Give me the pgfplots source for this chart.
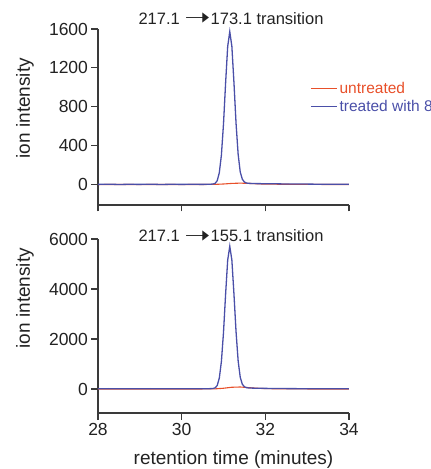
\documentclass[border=0pt]{standalone}
\usepackage{pgfplots}
\pgfplotsset{compat=1.18}
\usepackage{fontspec}
\setmainfont{Liberation Sans}
\newfontfamily\symfont{DejaVu Sans}

\definecolor{untr}{HTML}{E8502A}
\definecolor{trt}{HTML}{4A4FA8}
\definecolor{axcol}{HTML}{3A3A3A}
\definecolor{txt}{HTML}{222222}

% arrow used in the panel titles
\newcommand{\trarrow}{{\symfont\raisebox{-0.08em}{\scalebox{1.9}[1.45]{➝}}}}

\pgfplotsset{
  chrom/.style={
    scale only axis,
    width=251pt,
    xmin=28, xmax=34,
    axis lines=left,
    axis line style={-, axcol, line width=1.1pt},
    every tick/.style={axcol, line width=1.1pt},
    tick align=outside,
    major tick length=6.5pt,
    xtick={28,30,32,34},
    tick label style={font=\fontsize{17.5}{20}\selectfont, text=txt},
    label style={font=\fontsize{19}{22}\selectfont, text=txt},
    ylabel={ion intensity},
    /pgf/number format/assume math mode=true,
    /pgf/number format/1000 sep={},
    clip=false,
  },
  untr line/.style={untr, line width=1.1pt},
  trt line/.style={trt, line width=1.3pt},
}

\begin{document}
\begin{tikzpicture}

% top panel: 217.1 -> 173.1
\begin{axis}[chrom,
    at={(98pt,264pt)}, anchor=south west,
    height=176pt,
    ymin=-210, ymax=1600,
    ytick={0,400,800,1200,1600},
    xticklabels={},
    ylabel style={at={(axis description cs:-0.291,0.55)}, anchor=center},
    legend style={at={(axis description cs:0.845,0.611)}, anchor=west,
      draw=none, fill=none, inner sep=0pt, row sep=1pt,
      font=\fontsize{15.5}{18}\selectfont},
    legend cell align=left,
    legend image code/.code={\draw[#1] (0pt,0pt) -- (26pt,0pt);},
]
\addplot[untr line] coordinates {
  (28.0,0) (28.5,1) (29.0,0) (29.5,1) (30.0,0) (30.5,1) (30.8,2)
  (31.0,6) (31.2,12) (31.4,15) (31.6,12) (31.8,8) (32.0,5) (32.5,3)
  (33.0,2) (33.5,1) (34.0,1)
};
\addlegendentry{\textcolor{untr}{untreated}}
\addplot[trt line] coordinates {
  (28.0,2) (28.25,4) (28.5,1) (28.75,3) (29.0,2) (29.25,4) (29.5,1)
  (29.75,3) (30.0,2) (30.25,3) (30.5,2) (30.6,3) (30.7,4) (30.75,6)
  (30.8,12) (30.85,40) (30.9,122) (30.95,304) (31.0,623) (31.05,1042)
  (31.1,1419) (31.15,1573) (31.2,1422) (31.25,1048) (31.3,630)
  (31.35,312) (31.4,130) (31.45,55) (31.5,26) (31.55,16) (31.6,13)
  (31.7,11) (31.8,10) (32.0,9) (32.25,8) (32.5,6) (32.75,5) (33.0,5)
  (33.25,4) (33.5,4) (33.75,3) (34.0,4)
};
\addlegendentry{\textcolor{trt}{treated with 8}}
\node[txt, font=\fontsize{16.5}{18}\selectfont, anchor=center]
  at (axis description cs:0.53,1.057) {217.1 \trarrow173.1 transition};
\end{axis}

% bottom panel: 217.1 -> 155.1
\begin{axis}[chrom,
    at={(98pt,56pt)}, anchor=south west,
    height=174pt,
    ymin=-960, ymax=6000,
    ytick={0,2000,4000,6000},
    xlabel={retention time (minutes)},
    xlabel style={at={(axis description cs:0.54,-0.27)}, anchor=center},
    ylabel style={at={(axis description cs:-0.291,0.66)}, anchor=center},
]
\addplot[untr line] coordinates {
  (28.0,0) (28.5,2) (29.0,0) (29.5,2) (30.0,1) (30.5,2) (30.8,5)
  (31.0,30) (31.2,70) (31.4,80) (31.6,55) (31.8,30) (32.0,15) (32.5,5)
  (33.0,2) (33.5,1) (34.0,1)
};
\addplot[trt line] coordinates {
  (28.0,10) (28.25,14) (28.5,8) (28.75,12) (29.0,10) (29.25,14) (29.5,9)
  (29.75,12) (30.0,10) (30.25,13) (30.5,11) (30.6,12) (30.7,15) (30.75,22)
  (30.8,45) (30.85,140) (30.9,440) (30.95,1100) (31.0,2260) (31.05,3780)
  (31.1,5150) (31.15,5710) (31.2,5160) (31.25,3800) (31.3,2290)
  (31.35,1130) (31.4,470) (31.45,190) (31.5,90) (31.55,55) (31.6,42)
  (31.7,35) (31.8,30) (32.0,25) (32.25,20) (32.5,16) (33.0,12)
  (33.5,10) (34.0,10)
};
\node[txt, font=\fontsize{16.5}{18}\selectfont, anchor=center]
  at (axis description cs:0.53,1.014) {217.1 \trarrow155.1 transition};
\end{axis}

\pgfresetboundingbox
\useasboundingbox (0,0) rectangle (431pt,469pt);
\end{tikzpicture}
\end{document}
